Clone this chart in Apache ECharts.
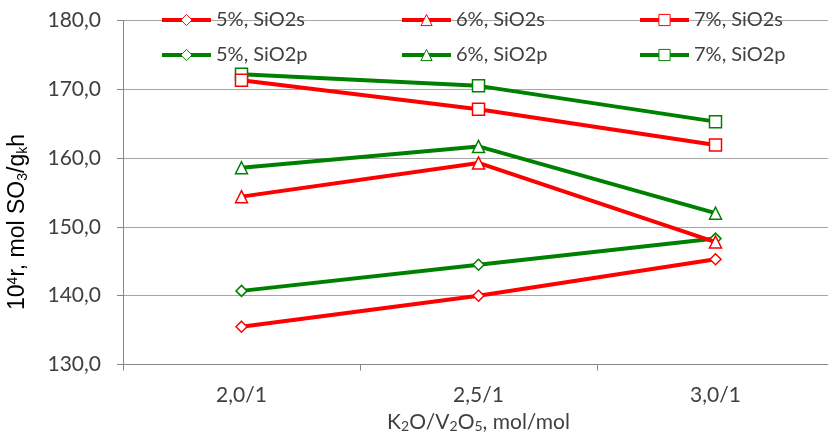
<!DOCTYPE html>
<html>
<head>
<meta charset="utf-8">
<script src="https://cdn.jsdelivr.net/npm/echarts@6/dist/echarts.min.js"></script>
<style>
  html, body { margin: 0; padding: 0; background: #fff; }
  #chart { width: 828px; height: 438px; }
</style>
</head>
<body>
<div id="chart"></div>
<script>
// Molar ratio K2O/V2O5 on the category axis
const categories = ['2,0/1', '2,5/1', '3,0/1'];

// Reaction rate, 10^4 r (mol SO3 / g_k h)
const s5 = [135.5, 140.0, 145.3];
const s6 = [154.4, 159.3, 147.8];
const s7 = [171.3, 167.1, 161.9];
const p5 = [140.7, 144.5, 148.3];
const p6 = [158.6, 161.7, 152.0];
const p7 = [172.2, 170.5, 165.3];

const seriesNames = ['5%, SiO2s', '6%, SiO2s', '7%, SiO2s', '5%, SiO2p', '6%, SiO2p', '7%, SiO2p'];
const seriesData = [s5, s6, s7, p5, p6, p7];
const yTicks = [130, 140, 150, 160, 170, 180];

const RED = '#ff0000';
const GREEN = '#008000';
const colors = [RED, RED, RED, GREEN, GREEN, GREEN];
const symbols = ['diamond', 'triangle', 'rect', 'diamond', 'triangle', 'rect'];
const symbolSizes = [11, 12, 12, 11, 12, 12];

const FONT = 'Lato';
const TEXT = '#404040';

const chart = echarts.init(document.getElementById('chart'), null, { renderer: 'canvas' });

const series = seriesNames.map((name, i) => ({
  name: name,
  type: 'line',
  data: seriesData[i],
  symbol: symbols[i],
  symbolSize: symbolSizes[i],
  showAllSymbol: true,
  lineStyle: { color: colors[i], width: 4 },
  itemStyle: { color: '#ffffff', borderColor: colors[i], borderWidth: 1.5 },
  emphasis: { disabled: true },
  z: i < 3 ? 3 : 2,
  animation: false
}));

// six single-item legends laid out as a 3x2 block
const legendCols = [160, 400, 638];
const legendRows = [10, 45];
const legends = seriesNames.map((name, i) => ({
  data: [name],
  left: legendCols[i % 3],
  top: legendRows[Math.floor(i / 3)],
  itemWidth: 49,
  itemHeight: 14,
  itemGap: 0,
  padding: 0,
  selectedMode: false,
  lineStyle: { width: 4 },
  itemStyle: { borderWidth: 1 },
  textStyle: { fontFamily: FONT, fontSize: 20, color: TEXT }
}));

const sub = { fontFamily: FONT, fontSize: 14, color: TEXT, padding: [8, 0, 0, 0] };

chart.setOption({
  animation: false,
  backgroundColor: '#ffffff',
  legend: legends,
  grid: {
    left: 123, top: 20.5, width: 711, height: 344,
    containLabel: false, outerBoundsMode: 'none'
  },
  xAxis: {
    type: 'category',
    data: categories,
    boundaryGap: true,
    axisLine: { lineStyle: { color: '#868686', width: 1 } },
    axisTick: { show: true, length: 6, lineStyle: { color: '#868686' } },
    axisLabel: { fontFamily: FONT, fontSize: 21, color: TEXT, margin: 20 },
    splitLine: { show: false },
    name: '{n|K}{s|2}{n|O/V}{s|2}{n|O}{s|5}{n|, mol/mol}',
    nameLocation: 'middle',
    nameGap: 47,
    nameTextStyle: {
      rich: {
        n: { fontFamily: FONT, fontSize: 21, color: TEXT },
        s: sub
      }
    }
  },
  yAxis: {
    type: 'value',
    min: yTicks[0],
    max: yTicks[yTicks.length - 1],
    interval: 10,
    axisLine: { show: true, lineStyle: { color: '#868686', width: 1 } },
    axisTick: { show: true, length: 6, lineStyle: { color: '#868686' } },
    axisLabel: {
      fontFamily: FONT, fontSize: 21, color: TEXT, margin: 22,
      formatter: v => v.toFixed(1).replace('.', ',')
    },
    splitLine: { show: true, lineStyle: { color: '#a6a6a6', width: 1 } }
  },
  graphic: [{
    type: 'text',
    x: 18,
    y: 222,
    rotation: Math.PI / 2,
    style: {
      text: '{n|10}{u|4}{n|r, mol SO}{s|3}{n|/g}{s|k}{n|h}',
      align: 'center',
      verticalAlign: 'middle',
      rich: {
        n: { fontFamily: 'Liberation Sans', fontSize: 23, color: '#1a1a1a' },
        s: { fontFamily: 'Liberation Sans', fontSize: 14, color: '#1a1a1a', padding: [10, 0, 0, 0] },
        u: { fontFamily: 'Liberation Sans', fontSize: 14, color: '#1a1a1a', padding: [0, 0, 10, 0] }
      }
    }
  }],
  series: series
});
</script>
</body>
</html>
